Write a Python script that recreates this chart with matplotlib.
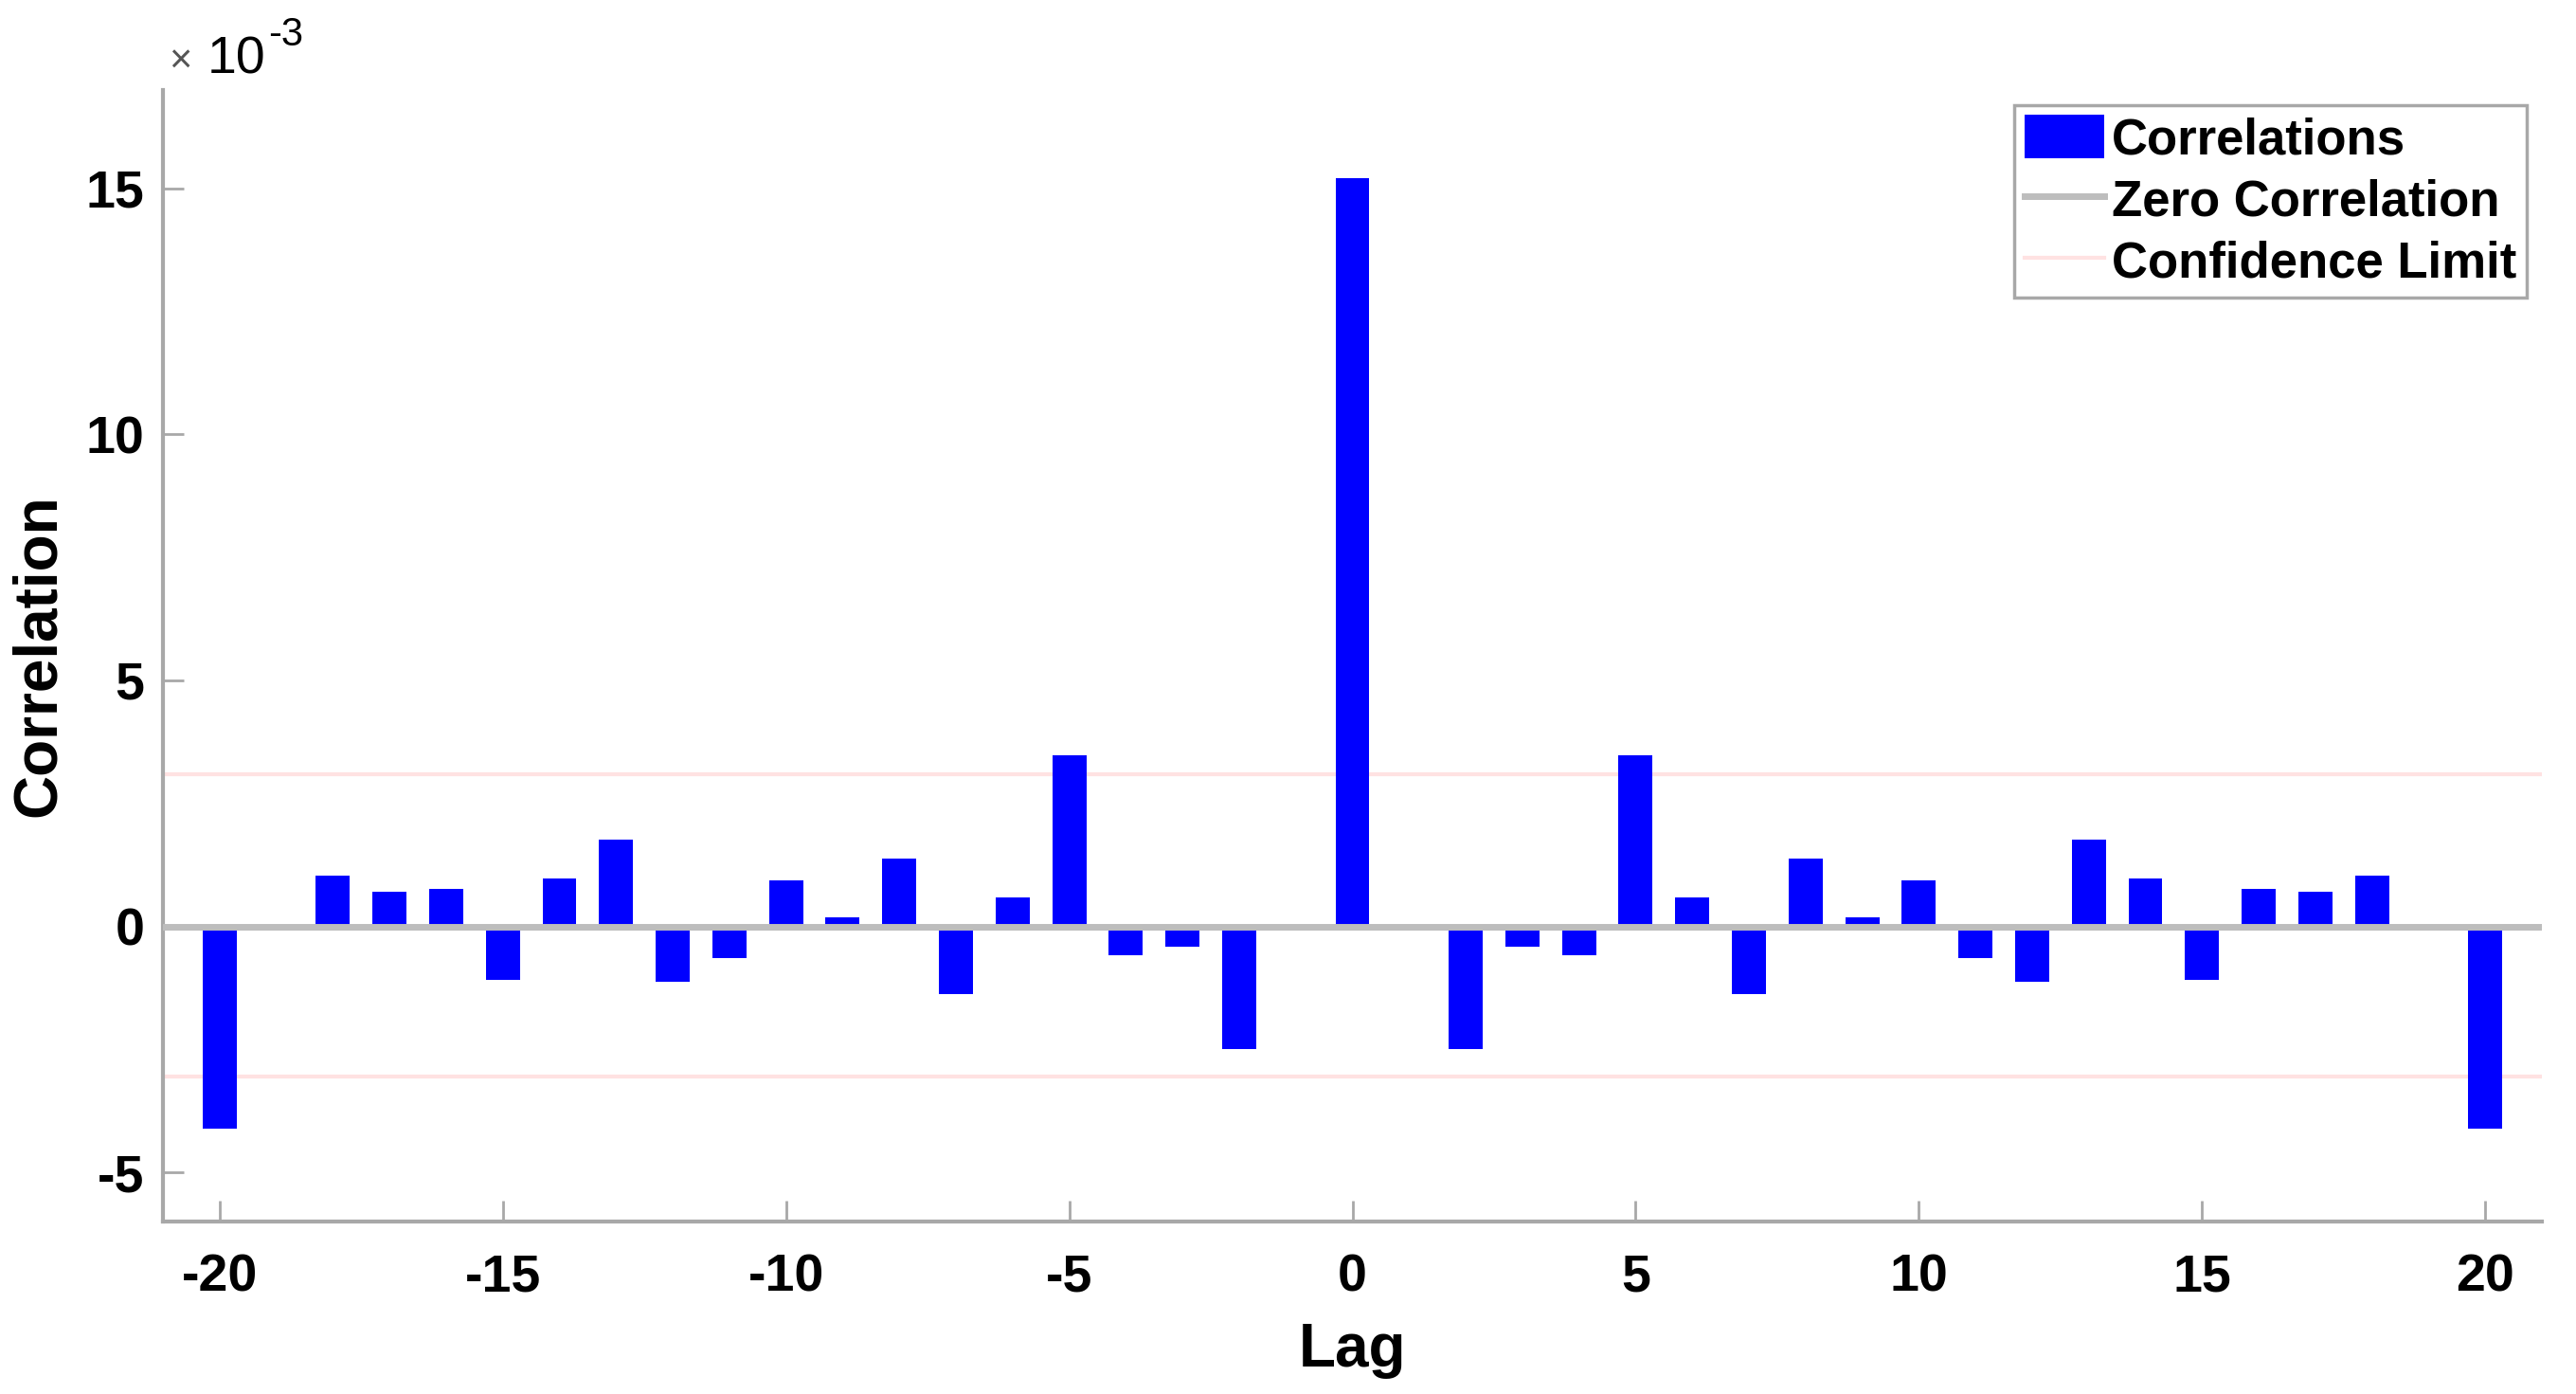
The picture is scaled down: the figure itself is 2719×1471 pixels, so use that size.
import matplotlib
matplotlib.use('Agg')
import matplotlib.pyplot as plt

# lag axis and correlation values (x 1e-3)
lags = list(range(-20, 21))
corr = [-4.12, 0.0, 1.03, 0.71, 0.77, -1.09, 0.97, 1.77, -1.13, -0.64,
        0.93, 0.19, 1.38, -1.38, 0.59, 3.47, -0.58, -0.42, -2.50, 0.0,
        15.2,
        0.0, -2.50, -0.42, -0.58, 3.47, 0.59, -1.38, 1.38, 0.19, 0.93,
        -0.64, -1.13, 1.77, 0.97, -1.09, 0.77, 0.71, 1.03, 0.0, -4.12]
conf_upper = 3.10
conf_lower = -3.05
xticks = [-20, -15, -10, -5, 0, 5, 10, 15, 20]
yticks = [-5, 0, 5, 10, 15]

W, H = 2719, 1471
plt.rcParams['font.family'] = ['Liberation Sans', 'DejaVu Sans']
plt.rcParams['font.weight'] = 'bold'
plt.rcParams['axes.unicode_minus'] = False

fig = plt.figure(figsize=(W / 100, H / 100), dpi=100)
ax = fig.add_axes([172 / W, 1 - 1289 / H, (2683 - 172) / W, (1289 - 95) / H])

bars = ax.bar(lags, corr, width=0.6, color='#0000ff', linewidth=0, label='Correlations', zorder=2)
zero = ax.axhline(0, color='#bdbdbd', lw=5, label='Zero Correlation', zorder=3)
conf = ax.axhline(conf_upper, color='#ffe2e2', lw=3, label='Confidence Limit', zorder=1)
ax.axhline(conf_lower, color='#ffe2e2', lw=3, zorder=1)

ax.set_xlim(-21, 21)
ax.set_ylim(-6, 17)
ax.set_xticks(xticks)
ax.set_yticks(yticks)

for s in ['top', 'right']:
    ax.spines[s].set_visible(False)
for s in ['left', 'bottom']:
    ax.spines[s].set_color('#a8a8a8')
    ax.spines[s].set_linewidth(3)

ax.tick_params(direction='in', length=16, width=2, color='#a8a8a8',
               labelsize=40, labelcolor='black')
ax.tick_params(axis='x', pad=24)
ax.tick_params(axis='y', pad=14)

ax.set_xlabel('Lag', fontsize=46, fontweight='bold', labelpad=15)
ax.set_ylabel('Correlation', fontsize=46, fontweight='bold', labelpad=14)

leg = ax.legend([bars, zero, conf], ['Correlations', 'Zero Correlation', 'Confidence Limit'],
                loc='upper right', fontsize=38, frameon=True, fancybox=False,
                framealpha=1, edgecolor='#a8a8a8', handlelength=1.6,
                handleheight=0.95, handletextpad=0.15, labelspacing=0.25,
                borderpad=0.2, borderaxespad=0.3)
leg.get_frame().set_linewidth(2.5)

# exponent marker like MATLAB
fig.text(178 / W, 1 - 77 / H, '×', fontsize=30, color='#555555', va='baseline', fontweight='normal')
fig.text(219 / W, 1 - 77 / H, '10', fontsize=40, va='baseline', fontweight='normal')
fig.text(283 / W, 1 - 48 / H, '-3', fontsize=30, va='baseline', fontweight='normal')

fig.savefig('out.png', dpi=100)
